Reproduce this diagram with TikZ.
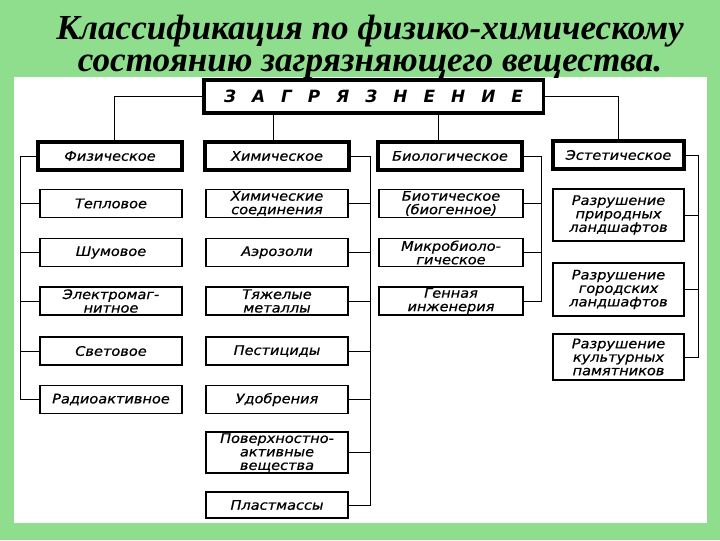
\documentclass[tikz,border=0pt]{standalone}
\usepackage{fontspec}
\setmainfont{DejaVu Sans}
\newfontfamily\titlefont{Liberation Serif}
\newfontfamily\boxfont[FakeStretch=1.1, FakeBold=0.6]{DejaVu Sans}
\newfontfamily\headfont[LetterSpace=95]{DejaVu Sans}
\definecolor{fon}{RGB}{142,222,142}

\tikzset{
  itembox/.style={draw, line width=0.9pt, align=center, inner sep=0.5pt, minimum height=7mm,
    font=\boxfont\itshape\fontsize{9.4}{9.6}\selectfont},
  groupbox/.style={itembox, line width=2.2pt},
  link/.style={line width=0.7pt},
}

\begin{document}
\begin{tikzpicture}[x=0.025cm, y=-0.025cm]
\useasboundingbox (0,0) rectangle (720,540);

% Fondo
\fill[fon] (0,0) rectangle (720,540);
\fill[white] (14,77) rectangle (707,523);

\node[font=\titlefont\bfseries\itshape\fontsize{25}{22.7}\selectfont, align=center] (title) at (370,47)
	{Классификация по физико-химическому\\состоянию загрязняющего вещества.};

% Nivel superior
\node[groupbox, minimum width=84.75mm, minimum height=8.25mm, font=\headfont\bfseries\itshape\fontsize{12}{12}\selectfont]
	(zag) at (373.5,96.5) {ЗАГРЯЗНЕНИЕ};

\node[groupbox, minimum width=36mm] (fiz) at (110,156) {Физическое};
\node[groupbox, minimum width=36mm] (him) at (277,156) {Химическое};
\node[groupbox, minimum width=36mm] (bio) at (450,156) {Биологическое};
\node[groupbox, minimum width=32.75mm] (est) at (618.5,155) {Эстетическое};

% Columnas
\foreach \n/\y/\t in {tep/203.5/Тепловое, shum/252.5/Шумовое, elm/301/{Электромаг-\\нитное},
		svet/351/Световое, rad/399.5/Радиоактивное}
	\node[itembox, minimum width=35.5mm] (\n) at (111,\y) {\t};

\foreach \n/\y/\t in {soed/203.5/{Химические\\соединения}, aer/252.5/Аэрозоли, met/301/{Тяжелые\\металлы},
		pest/351/Пестициды, udob/399.5/Удобрения}
	\node[itembox, minimum width=35.5mm] (\n) at (277,\y) {\t};
\node[itembox, minimum width=35.5mm, minimum height=10.25mm] (pav) at (277,452.5) {Поверхностно-\\активные\\вещества};
\node[itembox, minimum width=35.5mm, minimum height=6.5mm] (plast) at (277,505) {Пластмассы};

\foreach \n/\y/\t in {biot/203.5/{Биотическое\\(биогенное)}, mikro/252.5/{Микробиоло-\\гическое},
		gen/301/{Генная\\инженерия}}
	\node[itembox, minimum width=36mm] (\n) at (451,\y) {\t};

\node[itembox, minimum width=32.75mm, minimum height=13mm] (prir) at (618.5,215) {Разрушение\\природных\\ландшафтов};
\node[itembox, minimum width=32.75mm, minimum height=13.25mm] (gor) at (618.5,289.5) {Разрушение\\городских\\ландшафтов};
\node[itembox, minimum width=32.75mm, minimum height=11.5mm] (kult) at (618.5,357) {Разрушение\\культурных\\памятников};

% Enlaces desde arriba
\draw[link] (zag.west) -| ([xshift=1mm]fiz.north);
\draw[link] (zag.east) -| (est.north);
\draw[link] ([xshift=-1mm]him.north) -- ([xshift=-1mm]him.north |- zag.south);
\draw[link] ([xshift=-3mm]bio.north) -- ([xshift=-3mm]bio.north |- zag.south);

% Barras laterales
\path (fiz.west) ++(-4mm,0) coordinate (fizbus);
\path (him.east) ++(5mm,0) coordinate (himbus);
\path (bio.east) ++(4.5mm,0) coordinate (biobus);
\path (est.east) ++(3.25mm,0) coordinate (estbus);

\draw[link] (fiz.west) -- (fizbus) |- (rad.west);
\foreach \n in {tep,shum,elm,svet}
	\draw[link] (\n.west) -- (\n.west -| fizbus);

\draw[link] (him.east) -- (himbus) |- (plast.east);
\foreach \n in {soed,aer,met,pest,udob,pav}
	\draw[link] (\n.east) -- (\n.east -| himbus);

\draw[link] (bio.east) -- (biobus) |- (gen.east);
\foreach \n in {biot,mikro}
	\draw[link] (\n.east) -- (\n.east -| biobus);

\draw[link] (est.east) -- (estbus) |- (kult.east);
\foreach \n in {prir,gor}
	\draw[link] (\n.east) -- (\n.east -| estbus);
\end{tikzpicture}
\end{document}
